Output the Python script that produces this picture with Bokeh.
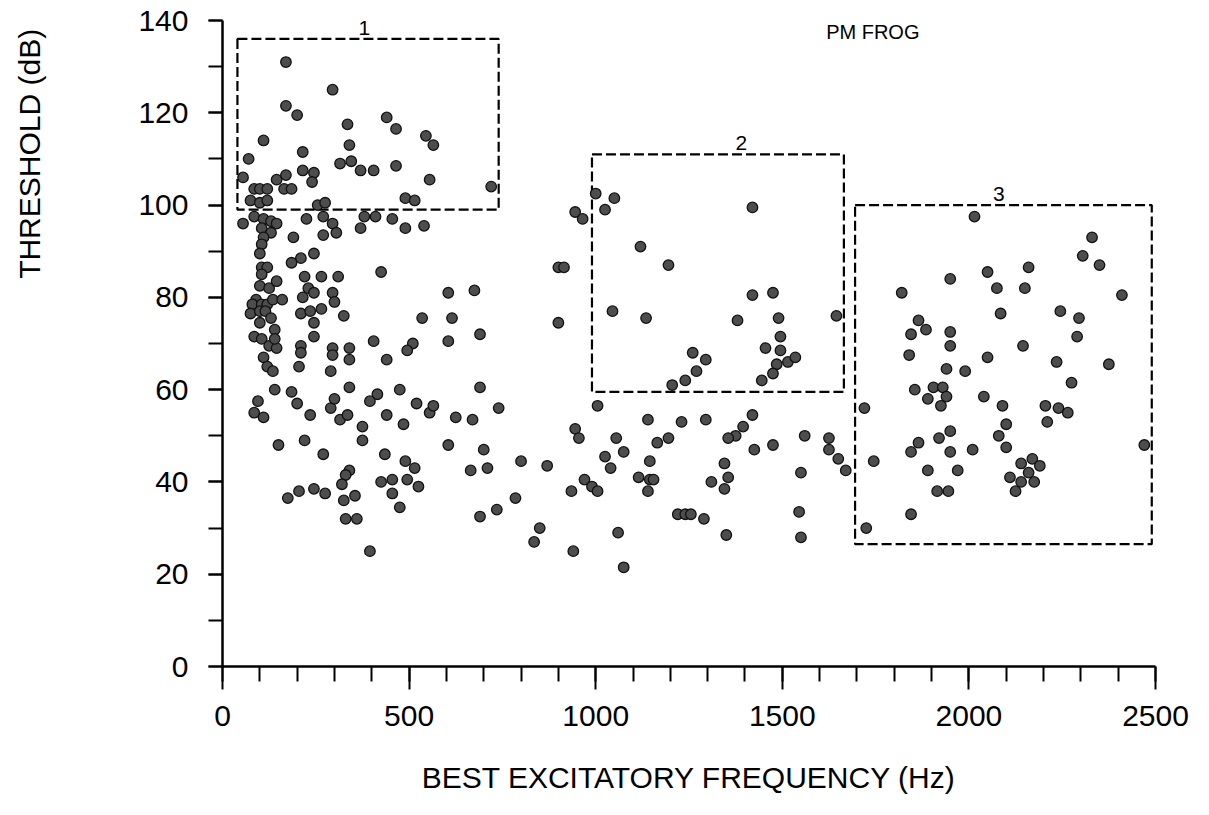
from bokeh.plotting import figure
from bokeh.models import Range1d, FixedTicker, Title, ColumnDataSource
from bokeh.core.properties import value
from bokeh.embed import file_html
from bokeh.resources import INLINE

# Best excitatory frequency (Hz) and threshold (dB) of each unit
freq_hz = [
    170, 295, 170, 200, 110, 335, 340, 440, 465, 545,
    565, 215, 70, 55, 215, 245, 240, 315, 345, 370,
    405, 465, 555, 145, 170, 165, 185, 85, 100, 120,
    75, 100, 120, 255, 275, 490, 515, 720, 55, 85,
    110, 130, 145, 105, 130, 110, 105, 100, 105, 120,
    105, 100, 125, 145, 90, 80, 105, 120, 135, 160,
    75, 100, 115, 130, 100, 85, 105, 140, 125, 145,
    140, 110, 120, 135, 225, 270, 295, 305, 270, 190,
    380, 410, 370, 455, 490, 540, 245, 210, 185, 425,
    220, 265, 310, 230, 245, 215, 295, 300, 265, 210,
    235, 245, 325, 245, 210, 210, 295, 295, 340, 340,
    405, 440, 510, 495, 205, 290, 140, 185, 340, 415,
    475, 535, 615, 690, 605, 900, 605, 675, 945, 965,
    900, 915, 1000, 1050, 1025, 1420, 1120, 1195, 1420, 1475,
    1045, 1135, 1380, 1490, 1645, 1495, 1455, 1495, 1515, 1535,
    1485, 1475, 1445, 1260, 1295, 1270, 1240, 1205, 95, 85,
    110, 200, 235, 290, 300, 315, 335, 375, 375, 395,
    440, 485, 520, 555, 565, 625, 670, 690, 740, 605,
    700, 710, 665, 800, 870, 1005, 945, 955, 1025, 970,
    990, 1005, 935, 150, 220, 270, 340, 330, 320, 435,
    490, 515, 455, 425, 495, 525, 455, 475, 175, 205,
    245, 275, 325, 355, 330, 360, 395, 785, 735, 690,
    850, 835, 940, 1720, 1420, 1295, 1230, 1140, 1395, 1375,
    1355, 1195, 1165, 1055, 1075, 1040, 1425, 1475, 1560, 1625,
    1625, 1650, 1670, 1145, 1345, 1355, 1345, 1310, 1115, 1145,
    1155, 1140, 1550, 1545, 1550, 1220, 1240, 1255, 1290, 1060,
    1350, 1075, 2015, 2330, 2305, 2350, 2160, 2050, 1950, 2075,
    2150, 2410, 1820, 2085, 2245, 2295, 2290, 1865, 1885, 1845,
    1950, 1950, 2145, 1840, 2050, 2235, 2375, 1940, 1990, 2275,
    1855, 1905, 1930, 1940, 1890, 1925, 2040, 2090, 2205, 2240,
    2265, 2210, 2100, 2080, 2100, 1950, 1920, 1865, 1845, 1950,
    2010, 1890, 1970, 1915, 1945, 2140, 2170, 2190, 2160, 2110,
    2140, 2175, 2125, 2470, 1745, 1845, 1725,
]

threshold_db = [
    131, 125, 121.5, 119.5, 114, 117.5, 113, 119, 116.5, 115,
    113, 111.5, 110, 106, 107.5, 107, 105, 109, 109.5, 107.5,
    107.5, 108.5, 105.5, 105.5, 106.5, 103.5, 103.5, 103.5, 103.5, 103.5,
    101, 100.5, 101, 100, 100.5, 101.5, 101, 104, 96, 97.5,
    97, 96.5, 96, 95, 94, 93, 91.5, 89.5, 86.5, 86.5,
    85, 82.5, 82, 83.5, 79.5, 78.5, 78.5, 78.5, 79.5, 79.5,
    76.5, 77, 77, 75.5, 74.5, 71.5, 71, 73, 69.5, 69,
    71, 67, 65, 64, 97, 97.5, 96, 94, 93.5, 93,
    97.5, 97.5, 95, 97, 95, 95.5, 89.5, 88.5, 87.5, 85.5,
    84.5, 84.5, 84.5, 82, 81, 80, 81, 79, 77.5, 76.5,
    77, 74.5, 76, 71.5, 69.5, 68, 69, 67.5, 69, 66.5,
    70.5, 66.5, 70, 68.5, 65, 64, 60, 59.5, 60.5, 59,
    60, 75.5, 75.5, 72, 70.5, 74.5, 81, 81.5, 98.5, 97,
    86.5, 86.5, 102.5, 101.5, 99, 99.5, 91, 87, 80.5, 81,
    77, 75.5, 75, 75.5, 76, 71.5, 69, 68.5, 66, 67,
    65.5, 63.5, 62, 68, 66.5, 64, 62, 61, 57.5, 55,
    54, 57, 54.5, 56, 58, 53.5, 54.5, 52, 49, 57.5,
    54.5, 52.5, 57, 55, 56.5, 54, 53.5, 60.5, 56, 48,
    47, 43, 42.5, 44.5, 43.5, 56.5, 51.5, 49.5, 45.5, 40.5,
    39, 38, 38, 48, 49, 46, 42.5, 41.5, 39.5, 46,
    44.5, 43, 40.5, 40, 40.5, 39, 37.5, 34.5, 36.5, 38,
    38.5, 37.5, 36, 37, 32, 32, 25, 36.5, 34, 32.5,
    30, 27, 25, 56, 54.5, 53.5, 53, 53.5, 52, 50,
    49.5, 49.5, 48.5, 49.5, 46.5, 43, 47, 48, 50, 49.5,
    47, 45, 42.5, 44.5, 44, 41, 38.5, 40, 41, 40.5,
    40.5, 38, 42, 33.5, 28, 33, 33, 33, 32, 29,
    28.5, 21.5, 97.5, 93, 89, 87, 86.5, 85.5, 84, 82,
    82, 80.5, 81, 76.5, 77, 75.5, 71.5, 75, 73, 72,
    72.5, 69.5, 69.5, 67.5, 67, 66, 65.5, 64.5, 64, 61.5,
    60, 60.5, 60.5, 58.5, 58, 56.5, 58.5, 56.5, 56.5, 56,
    55, 53, 52.5, 50, 47.5, 51, 49.5, 48.5, 46.5, 46.5,
    47, 42.5, 42.5, 38, 38, 44, 45, 43.5, 42, 41,
    40, 40, 38, 48, 44.5, 33, 30,
]

# Dashed groupings 1-3 (frequency and threshold extents)
group_names = ["1", "2", "3"]
group_left = [40, 990, 1695]
group_right = [740, 1665, 2490]
group_bottom = [99, 59.5, 26.5]
group_top = [136, 111, 100]
group_label_x = [380, 1390, 2080]

x_major_ticks = [0, 500, 1000, 1500, 2000, 2500]
x_minor_ticks = list(range(0, 2501, 100))
y_major_ticks = [0, 20, 40, 60, 80, 100, 120, 140]
y_minor_ticks = list(range(0, 141, 10))

FONT = "Liberation Sans"

p = figure(
    width=1209, height=815,
    x_range=Range1d(0, 2500), y_range=Range1d(0, 140),
    output_backend="svg", toolbar_location=None,
    min_border_left=222, min_border_right=54,
    min_border_top=20, min_border_bottom=149,
)
p.outline_line_color = None
p.grid.visible = False
p.background_fill_color = "white"
p.border_fill_color = "white"

# x axis
xa = p.xaxis[0]
xa.ticker = FixedTicker(ticks=x_major_ticks, minor_ticks=x_minor_ticks)
xa.axis_line_width = 2.5
xa.major_tick_line_width = 2
xa.minor_tick_line_width = 2
xa.major_tick_in = 0
xa.major_tick_out = 23
xa.minor_tick_in = 0
xa.minor_tick_out = 15
xa.major_label_standoff = 16
xa.major_label_text_font = FONT
xa.major_label_text_font_size = "30px"
xa.major_label_text_color = "black"
xa.axis_label = "BEST EXCITATORY FREQUENCY (Hz)"
xa.axis_label_text_font = FONT
xa.axis_label_text_font_size = "30px"
xa.axis_label_text_font_style = "normal"
xa.axis_label_text_color = "black"
xa.axis_label_standoff = 32

# y axis; its (blank) axis label only widens the left panel so that the
# title further out sits close to the page edge
ya = p.yaxis[0]
ya.ticker = FixedTicker(ticks=y_major_ticks, minor_ticks=y_minor_ticks)
ya.axis_line_width = 2.5
ya.major_tick_line_width = 2
ya.minor_tick_line_width = 2
ya.major_tick_in = 0
ya.major_tick_out = 14
ya.minor_tick_in = 0
ya.minor_tick_out = 14
ya.major_label_standoff = 20
ya.major_label_text_font = FONT
ya.major_label_text_font_size = "30px"
ya.major_label_text_color = "black"
ya.axis_label = " "
ya.axis_label_text_font_size = "30px"
ya.axis_label_standoff = 42

p.add_layout(Title(
    text="THRESHOLD  (dB)", align="right", vertical_align="top", standoff=20,
    text_font=FONT, text_font_size="30px", text_font_style="normal",
    text_color="black",
), "left")

# dashed group boxes
boxes = ColumnDataSource(dict(
    left=group_left, right=group_right, bottom=group_bottom, top=group_top,
    name=group_names, lx=group_label_x,
))
p.quad(left="left", right="right", bottom="bottom", top="top", source=boxes,
       fill_color=None, line_color="black", line_width=2.2, line_dash="10 4")
p.text(x="lx", y="top", text="name", source=boxes,
       text_font=value(FONT), text_font_size="21px", text_color="black",
       text_align="center", text_baseline="bottom", y_offset=-4)

# units
p.scatter(freq_hz, threshold_db, size=10.5, marker="circle",
          fill_color="#4d4d4d", line_color="#111111", line_width=1.3)

p.text(x=[1750], y=[137.4], text=["PM  FROG"],
       text_font=value(FONT), text_font_size="20px", text_color="black",
       text_align="center", text_baseline="middle")

open("out.html", "w").write(file_html(p, INLINE))
